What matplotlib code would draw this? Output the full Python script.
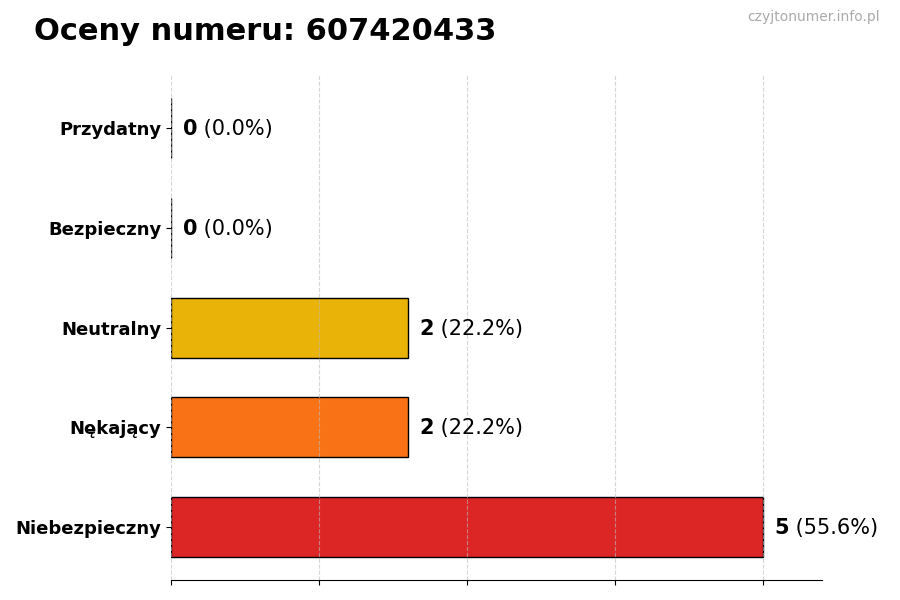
import matplotlib
matplotlib.use("Agg")
import matplotlib.pyplot as plt

categories = ["Niebezpieczny", "Nękający", "Neutralny", "Bezpieczny", "Przydatny"]
counts = [5, 2, 2, 0, 0]
colors = ["#dc2626", "#f97316", "#eab308", "#22c55e", "#16a34a"]
title = "Oceny numeru: 607420433"
watermark = "czyjtonumer.info.pl"

total = sum(counts)
fig = plt.figure(figsize=(9, 6), dpi=100)
ax = fig.add_axes([0.19, 0.033, 0.723, 0.842])

ypos = list(range(len(categories)))
ax.barh(ypos, counts, height=0.6, color=colors, edgecolor="black", linewidth=1, zorder=2)
ax.set_yticks(ypos)
ax.set_yticklabels(categories, fontsize=13, fontweight="bold")
ax.set_xlim(0, max(counts) * 1.1)
ax.set_xticks([0, 1.25, 2.5, 3.75, 5])
ax.set_xticklabels([])
ax.grid(axis="x", linestyle="--", color="#bbbbbb", alpha=0.6, zorder=3)
ax.set_axisbelow(False)
for s in ["top", "right", "left"]:
    ax.spines[s].set_visible(False)

for y, c in zip(ypos, counts):
    pct = c / total * 100 if total else 0
    t = ax.text(c + 0.1, y - 0.01, f"{c}", fontsize=15, fontweight="bold", va="center", ha="left")
    ax.annotate(f" ({pct:.1f}%)", xy=(1, 0.5), xycoords=t, fontsize=15, va="center", ha="left")

fig.text(0.038, 0.948, title, fontsize=22, fontweight="bold", ha="left", va="center")
fig.text(0.978, 0.971, watermark, fontsize=10, color="#aaaaaa", ha="right", va="center")

fig.savefig("out.png", dpi=100)
